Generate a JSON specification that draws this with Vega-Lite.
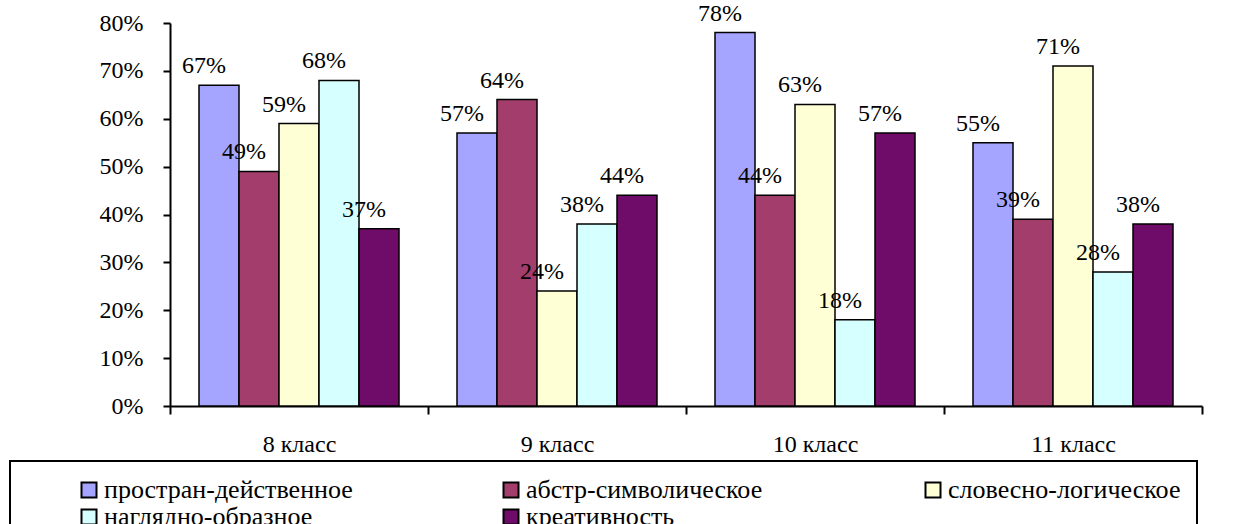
{
  "$schema": "https://vega.github.io/schema/vega-lite/v6.json",
  "width": 1032,
  "height": 383,
  "autosize": {"type": "none"},
  "padding": {"left": 170, "top": 23, "right": 56, "bottom": 118},
  "background": "white",
  "config": {"view": {"stroke": null}, "font": "Liberation Serif"},
  "data": {
    "values": [
      {"class": "8 класс", "type": "простран-действенное", "value": 0.67},
      {"class": "8 класс", "type": "абстр-символическое", "value": 0.49},
      {"class": "8 класс", "type": "словесно-логическое", "value": 0.59},
      {"class": "8 класс", "type": "наглядно-образное", "value": 0.68},
      {"class": "8 класс", "type": "креативность", "value": 0.37},
      {"class": "9 класс", "type": "простран-действенное", "value": 0.57},
      {"class": "9 класс", "type": "абстр-символическое", "value": 0.64},
      {"class": "9 класс", "type": "словесно-логическое", "value": 0.24},
      {"class": "9 класс", "type": "наглядно-образное", "value": 0.38},
      {"class": "9 класс", "type": "креативность", "value": 0.44},
      {"class": "10 класс", "type": "простран-действенное", "value": 0.78},
      {"class": "10 класс", "type": "абстр-символическое", "value": 0.44},
      {"class": "10 класс", "type": "словесно-логическое", "value": 0.63},
      {"class": "10 класс", "type": "наглядно-образное", "value": 0.18},
      {"class": "10 класс", "type": "креативность", "value": 0.57},
      {"class": "11 класс", "type": "простран-действенное", "value": 0.55},
      {"class": "11 класс", "type": "абстр-символическое", "value": 0.39},
      {"class": "11 класс", "type": "словесно-логическое", "value": 0.71},
      {"class": "11 класс", "type": "наглядно-образное", "value": 0.28},
      {"class": "11 класс", "type": "креативность", "value": 0.38}
    ]
  },
  "encoding": {
    "x": {
      "field": "class",
      "type": "nominal",
      "sort": ["8 класс", "9 класс", "10 класс", "11 класс"],
      "scale": {"paddingInner": 0, "paddingOuter": 0},
      "axis": {
        "title": null,
        "labelAngle": 0,
        "labelFontSize": 24,
        "labelFont": "Liberation Serif",
        "labelColor": "black",
        "labelPadding": 18,
        "domainColor": "black",
        "domainWidth": 2,
        "tickColor": "black",
        "tickWidth": 2,
        "tickSize": 8,
        "tickBand": "extent",
        "grid": false
      }
    },
    "xOffset": {
      "field": "type",
      "type": "nominal",
      "sort": ["простран-действенное", "абстр-символическое", "словесно-логическое", "наглядно-образное", "креативность"],
      "scale": {"paddingInner": 0, "paddingOuter": 0.725}
    },
    "y": {
      "field": "value",
      "type": "quantitative",
      "scale": {"domain": [0, 0.8], "nice": false},
      "axis": {
        "title": null,
        "format": ".0%",
        "values": [0, 0.1, 0.2, 0.3, 0.4, 0.5, 0.6, 0.7, 0.8],
        "grid": false,
        "labelFontSize": 24,
        "labelFont": "Liberation Serif",
        "labelColor": "black",
        "labelPadding": 20,
        "domainColor": "black",
        "domainWidth": 2,
        "tickColor": "black",
        "tickWidth": 2,
        "tickSize": 7
      }
    }
  },
  "layer": [
    {
      "mark": {"type": "bar", "stroke": "black", "strokeWidth": 1.5},
      "encoding": {
        "color": {
          "field": "type",
          "type": "nominal",
          "sort": ["простран-действенное", "абстр-символическое", "словесно-логическое", "наглядно-образное", "креативность"],
          "scale": {
            "domain": ["простран-действенное", "абстр-символическое", "словесно-логическое", "наглядно-образное", "креативность"],
            "range": ["#A5A5FF", "#A33E6C", "#FFFFD6", "#D6FFFF", "#6F0C6A"]
          },
          "legend": {
            "title": null,
            "orient": "none",
            "legendX": -160,
            "legendY": 438,
            "direction": "horizontal",
            "columns": 3,
            "gridAlign": "all",
            "columnPadding": 95,
            "rowPadding": 1,
            "padding": 16,
            "strokeColor": "black",
            "symbolType": "square",
            "symbolSize": 225,
            "symbolStrokeColor": "black",
            "symbolStrokeWidth": 2,
            "symbolOpacity": 1,
            "symbolOffset": 50,
            "labelOffset": 2,
            "labelFontSize": 26,
            "labelFont": "Liberation Serif",
            "labelColor": "black",
            "labelLimit": 0,
            "encode": {"legend": {"update": {"strokeWidth": {"value": 2}}}}
          }
        }
      }
    },
    {
      "mark": {"type": "text", "dx": -15, "dy": -12, "baseline": "alphabetic", "fontSize": 24, "font": "Liberation Serif", "color": "black"},
      "encoding": {"text": {"field": "value", "type": "quantitative", "format": ".0%"}}
    }
  ]
}
